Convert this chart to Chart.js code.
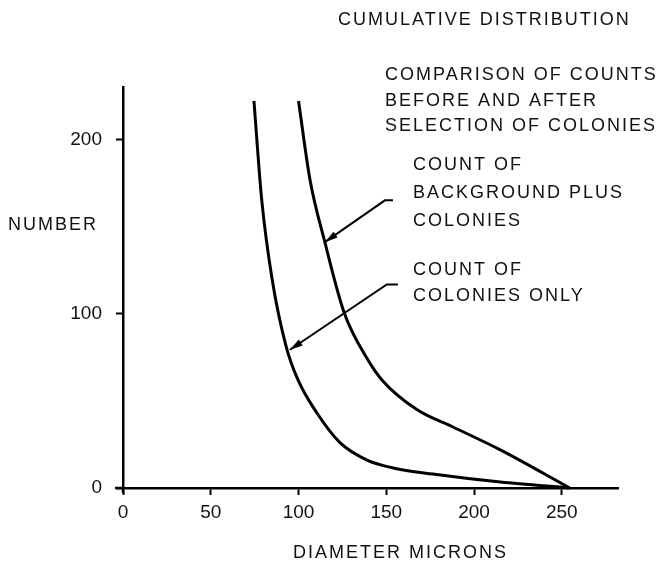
<!DOCTYPE html>
<html>
<head>
<meta charset="utf-8">
<script src="https://cdn.jsdelivr.net/npm/chart.js@4"></script>
<style>
  html, body { margin: 0; padding: 0; background: #fff; }
  #wrap { width: 661px; height: 561px; }
</style>
</head>
<body>
<div id="wrap"><canvas id="cumChart" width="661" height="561"></canvas></div>
<script>
// values (diameter in microns, cumulative number)
const colonyDiam = [74.6, 79, 85, 93, 99.7, 110.5, 123.6, 139, 154, 176.5, 215, 254.5];
const colonyCount = [222, 165.5, 119.5, 81, 62, 43, 26, 16, 11.5, 8, 3.4, 0];
const bgDiam = [100, 106.5, 115, 126, 139.5, 147.5, 167.4, 188, 214.7, 254.5];
const bgCount = [222, 177, 141, 100.5, 73.5, 62, 45, 35, 22, 0];

const xTicks = [0, 50, 100, 150, 200, 250];
const yTicks = [0, 100, 200];

// arrow callouts: [stub end, bend, tip] in data units
const arrowBg = [[153.8, 165], [149.2, 165], [115, 141]];
const arrowCol = [[156.6, 116.7], [150.3, 116.7], [95.1, 79.3]];

const FAMILY = '"Liberation Sans", Arial, sans-serif';

function toPts(xs, ys) {
    return xs.map((x, i) => ({ x: x, y: ys[i] }));
}

// draws the callout arrows and all the lettering
const lettering = {
    id: 'lettering',
    afterDraw(chart) {
        const ctx = chart.ctx;
        const xs = chart.scales.x, ys = chart.scales.y;
        ctx.save();

        // axis stubs past the origin
        ctx.strokeStyle = '#000';
        ctx.lineWidth = 2.5;
        ctx.beginPath();
        ctx.moveTo(xs.getPixelForValue(0) - 8, ys.getPixelForValue(0));
        ctx.lineTo(xs.getPixelForValue(0), ys.getPixelForValue(0));
        ctx.moveTo(xs.getPixelForValue(0), ys.getPixelForValue(0));
        ctx.lineTo(xs.getPixelForValue(0), ys.getPixelForValue(0) + 5);
        ctx.stroke();

        [arrowBg, arrowCol].forEach(a => {
            const p = a.map(v => [xs.getPixelForValue(v[0]), ys.getPixelForValue(v[1])]);
            ctx.lineWidth = 2;
            ctx.beginPath();
            ctx.moveTo(p[0][0], p[0][1]);
            ctx.lineTo(p[1][0], p[1][1]);
            ctx.lineTo(p[2][0], p[2][1]);
            ctx.stroke();
            // arrow head
            const ang = Math.atan2(p[2][1] - p[1][1], p[2][0] - p[1][0]);
            const L = 13, W = 3.5;
            ctx.beginPath();
            ctx.moveTo(p[2][0], p[2][1]);
            ctx.lineTo(p[2][0] - L * Math.cos(ang) + W * Math.sin(ang), p[2][1] - L * Math.sin(ang) - W * Math.cos(ang));
            ctx.lineTo(p[2][0] - L * Math.cos(ang) - W * Math.sin(ang), p[2][1] - L * Math.sin(ang) + W * Math.cos(ang));
            ctx.closePath();
            ctx.fillStyle = '#000';
            ctx.fill();
        });

        ctx.fillStyle = '#111';
        ctx.font = '18px ' + FAMILY;
        ctx.letterSpacing = '2px';
        ctx.textBaseline = 'middle';
        ctx.textAlign = 'left';
        ctx.fillText('CUMULATIVE DISTRIBUTION', 338, 20);
        ctx.fillText('COMPARISON OF COUNTS', 385, 75);
        ctx.fillText('BEFORE AND AFTER', 385, 101);
        ctx.fillText('SELECTION OF COLONIES', 385, 126);
        ctx.fillText('COUNT OF', 413, 165);
        ctx.fillText('BACKGROUND PLUS', 413, 193);
        ctx.fillText('COLONIES', 413, 221);
        ctx.fillText('COUNT OF', 413, 270);
        ctx.fillText('COLONIES ONLY', 413, 296);
        ctx.fillText('NUMBER', 8, 225);
        ctx.fillText('DIAMETER MICRONS', 293, 553);
        ctx.restore();
    }
};

const ctx = document.getElementById('cumChart').getContext('2d');
const cumChart = new Chart(ctx, {
    type: 'scatter',
    data: {
        datasets: [{
            label: 'Count of colonies only',
            data: toPts(colonyDiam, colonyCount),
        }, {
            label: 'Count of background plus colonies',
            data: toPts(bgDiam, bgCount),
        }].map(d => Object.assign(d, {
            showLine: true,
            borderColor: '#000',
            borderWidth: 3,
            pointRadius: 0,
            cubicInterpolationMode: 'monotone',
            clip: false
        }))
    },
    options: {
        responsive: false,
        animation: false,
        layout: { padding: { left: 0, top: 87, right: 43, bottom: 0 } },
        plugins: { legend: { display: false }, tooltip: { enabled: false } },
        scales: {
            x: {
                type: 'linear',
                min: 0,
                max: 282,
                afterFit: s => { s.height = 73; },
                afterBuildTicks: s => { s.ticks = xTicks.map(v => ({ value: v })); },
                grid: { drawOnChartArea: false, tickLength: 7, tickColor: '#000', tickWidth: 2 },
                border: { color: '#000', width: 2.5 },
                ticks: { color: '#111', font: { family: FAMILY, size: 19 }, padding: 6, maxRotation: 0 }
            },
            y: {
                type: 'linear',
                min: 0,
                max: 230,
                afterFit: s => { s.width = 123; },
                afterBuildTicks: s => { s.ticks = yTicks.map(v => ({ value: v })); },
                grid: { drawOnChartArea: false, tickLength: 7, tickColor: '#000', tickWidth: 2 },
                border: { color: '#000', width: 2.5 },
                ticks: { color: '#111', font: { family: FAMILY, size: 19 }, padding: 14 }
            }
        }
    },
    plugins: [lettering]
});
</script>
</body>
</html>
